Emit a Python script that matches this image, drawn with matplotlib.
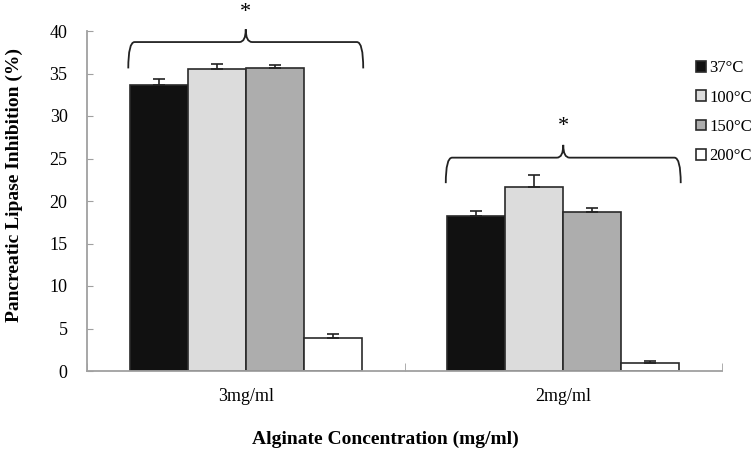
import matplotlib
matplotlib.use("Agg")
import matplotlib.pyplot as plt
import numpy as np
from matplotlib.path import Path
from matplotlib.patches import PathPatch

plt.rcParams['font.family'] = ['Liberation Serif', 'DejaVu Serif']

# data
concentrations = ['3mg/ml', '2mg/ml']
temperatures = ['37°C', '100°C', '150°C', '200°C']
inhibition = {
    '37°C':  [33.7, 18.2],
    '100°C': [35.5, 21.6],
    '150°C': [35.7, 18.7],
    '200°C': [3.9, 0.9],
}
errors = {
    '37°C':  [0.6, 0.6],
    '100°C': [0.6, 1.5],
    '150°C': [0.3, 0.5],
    '200°C': [0.5, 0.3],
}
colors = ['#111111', '#dcdcdc', '#adadad', '#ffffff']

# brace levels per group: ends, horizontal, tip, star
brace_levels = [(35.6, 38.7, 40.2, 42.2), (22.1, 25.1, 26.6, 28.8)]

dpi = 100
fig = plt.figure(figsize=(754 / dpi, 450 / dpi), dpi=dpi)
ax = fig.add_axes([87 / 754, 1 - 371 / 450, 635 / 754, 340 / 450])

x = np.arange(len(concentrations))
w = 0.183
for i, t in enumerate(temperatures):
    vals = inhibition[t]
    errs = errors[t]
    pos = x + (i - 1.5) * w
    ax.bar(pos, vals, width=w, color=colors[i], edgecolor='#2a2a2a',
           linewidth=1.2, label=t, zorder=2)
    ax.errorbar(pos, vals, yerr=[np.zeros(len(errs)), errs], fmt='none',
                ecolor='#222222', elinewidth=1.2, capsize=4, capthick=1.2, zorder=3)


def brace(ax, xc, hw, y_end, y_h, y_tip):
    r = 0.02
    r2 = 0.02
    verts = [
        (xc - hw, y_end),
        (xc - hw, y_h), (xc - hw + r, y_h),
        (xc - r2, y_h),
        (xc, y_h), (xc, y_tip),
        (xc, y_h), (xc + r2, y_h),
        (xc + hw - r, y_h),
        (xc + hw, y_h), (xc + hw, y_end),
    ]
    codes = [Path.MOVETO, Path.CURVE3, Path.CURVE3, Path.LINETO,
             Path.CURVE3, Path.CURVE3, Path.CURVE3, Path.CURVE3,
             Path.LINETO, Path.CURVE3, Path.CURVE3]
    patch = PathPatch(Path(verts, codes), facecolor='none', edgecolor='#222222',
                      linewidth=1.3, clip_on=False, zorder=4)
    ax.add_patch(patch)


for gi, (y_end, y_h, y_tip, y_star) in enumerate(brace_levels):
    brace(ax, x[gi], 0.37, y_end, y_h, y_tip)
    ax.text(x[gi], y_star, '*', ha='center', va='center', fontsize=16,
            clip_on=False)

ax.set_xlim(-0.5, 1.5)
ax.set_ylim(0, 40)
ax.set_yticks(np.arange(0, 41, 5))
ax.set_xticks(x)
ax.set_xticklabels(concentrations)
ax.set_xticks([-0.5, 0.5, 1.5], minor=True)

for s in ['top', 'right']:
    ax.spines[s].set_visible(False)
for s in ['left', 'bottom']:
    ax.spines[s].set_color('#a0a0a0')
    ax.spines[s].set_linewidth(1.3)

ax.tick_params(axis='y', direction='in', length=4, color='#a0a0a0',
               labelsize=13, pad=14)
ax.tick_params(axis='x', which='major', length=0, labelsize=13, pad=12)
ax.tick_params(axis='x', which='minor', direction='in', length=6,
               color='#a0a0a0')

fig.text(385 / 754, 1 - 439 / 450, 'Alginate Concentration (mg/ml)',
         ha='center', va='center', fontsize=14, fontweight='bold')
fig.text(14 / 754, 1 - 185 / 450, 'Pancreatic Lipase Inhibition (%)',
         ha='center', va='center', rotation=90, fontsize=14, fontweight='bold')

ax.legend(loc='upper left', bbox_to_anchor=(688 / 754, 1 - 52 / 450),
          bbox_transform=fig.transFigure, frameon=False, fontsize=12,
          handlelength=0.6, handleheight=0.6, handletextpad=0.2,
          labelspacing=0.8, borderpad=0)

fig.savefig('out.png', dpi=dpi)
